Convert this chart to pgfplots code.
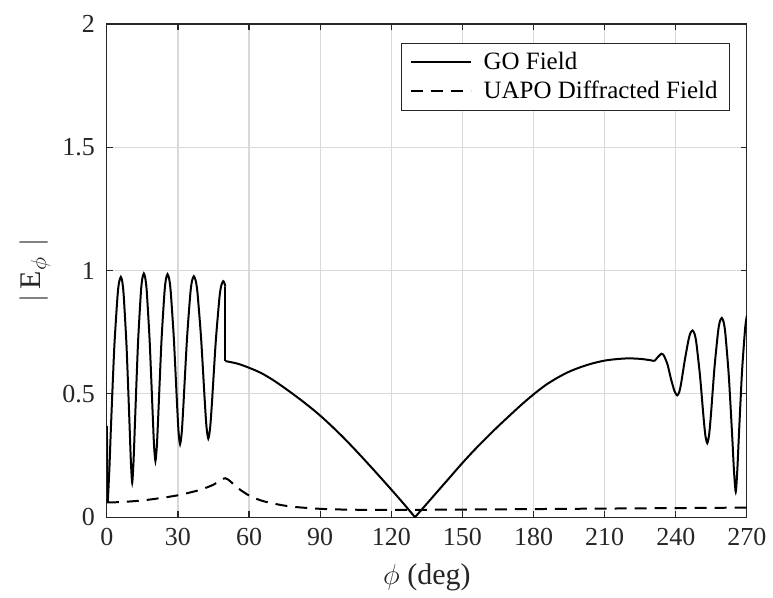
\documentclass[border=0pt]{standalone}
\usepackage{fontspec}
\setmainfont{Liberation Serif}
\usepackage{pgfplots}
\pgfplotsset{compat=1.18}
\definecolor{axgray}{RGB}{38,38,38}

\begin{document}
\begin{tikzpicture}
\begin{axis}[
  scale only axis,
  width=320.5pt,
  height=247pt,
  xmin=0, xmax=270,
  ymin=0, ymax=2,
  xtick={0,30,...,270},
  ytick={0,0.5,1,1.5,2},
  grid=major,
  grid style={black!15, line width=0.6pt},
  axis line style={axgray, line width=0.6pt},
  tick style={axgray, line width=0.6pt},
  major tick length=3pt,
  tick align=inside,
  xtick pos=both, ytick pos=both,
  /pgf/number format/assume math mode=true,
  tick label style={font=\fontsize{13}{15}\selectfont, text=axgray},
  xticklabel style={yshift=-2pt},
  yticklabel style={xshift=-2.5pt},
  every axis x label/.style={at={(axis description cs:0.5,0)}, yshift=-30pt, anchor=center,
    font=\fontsize{15}{17}\selectfont, text=axgray},
  every axis y label/.style={at={(axis description cs:0,0.5)}, xshift=-36pt, rotate=90, anchor=center,
    font=\fontsize{15}{17}\selectfont, text=axgray},
  xlabel={$\phi$ (deg)},
  ylabel={$\bigl|$\,E$_{\phi}$\,\,$\bigr|$},
  legend style={at={(1,1)}, anchor=north east, xshift=-8.5pt, yshift=-9.5pt,
    font=\fontsize{12.5}{14}\selectfont, draw=axgray, line width=0.4pt,
    row sep=0pt, inner xsep=4pt, inner ysep=2.5pt},
  legend cell align=left,
  legend image code/.code={\draw[#1] (0cm,0cm) -- (30pt,0cm); \path (34pt,0cm);},
]
% GO field, oscillating part below 50 deg
\addplot[black, line width=1pt, smooth, tension=0.4] coordinates {
(0.4,0.06) (1.09,0.199) (1.78,0.377) (3.15,0.690) (4.53,0.900) (5.21,0.955) (5.9,0.974)
(6.5,0.956) (7.1,0.901) (8.3,0.696) (9.5,0.395) (10.1,0.235) (10.7,0.14)
(11.31,0.237) (11.93,0.400) (13.15,0.706) (14.38,0.914) (14.99,0.969) (15.6,0.988)
(16.21,0.970) (16.83,0.917) (18.05,0.717) (19.28,0.433) (19.89,0.295) (20.5,0.228)
(21.14,0.295) (21.78,0.432) (23.05,0.715) (24.33,0.914) (24.96,0.967) (25.6,0.985)
(26.26,0.968) (26.93,0.917) (28.25,0.727) (29.58,0.466) (30.24,0.348) (30.9,0.296)
(31.63,0.347) (32.35,0.463) (33.8,0.722) (35.25,0.910) (35.98,0.960) (36.7,0.977)
(37.46,0.960) (38.23,0.911) (39.75,0.727) (41.28,0.476) (42.04,0.366) (42.8,0.319)
(43.59,0.364) (44.38,0.470) (45.95,0.713) (47.53,0.893) (48.31,0.941) (49.1,0.957)
(49.6,0.950) (50,0.935)
};
\addlegendentry{GO Field}
\addplot[black, line width=1pt, forget plot] coordinates {
(0,0.37) (0.4,0.06)
};
\addplot[black, line width=1pt, forget plot] coordinates {
(50,0.935) (50,0.633)
};
\addplot[black, line width=1pt, smooth, tension=0.5, forget plot] coordinates {
(50,0.633) (55,0.623) (60,0.606) (65,0.585) (70,0.557) (75,0.524) (80,0.489) (85,0.452)
(90,0.412) (95,0.368) (100,0.321) (105,0.271) (110,0.219) (115,0.166) (120,0.112)
(125,0.057) (130,0)
};
\addplot[black, line width=1pt, smooth, tension=0.5, forget plot] coordinates {
(130,0) (135,0.055) (140,0.110) (145,0.165) (150,0.220) (155,0.272) (160,0.321) (165,0.368)
(170,0.413) (175,0.457) (180,0.498) (185,0.535) (190,0.565) (195,0.590) (200,0.609)
(205,0.624) (210,0.635) (215,0.641) (220,0.644) (225,0.642) (229,0.637) (231,0.633)
};
\addplot[black, line width=1pt, smooth, tension=0.4, forget plot] coordinates {
(231,0.633) (232.5,0.650) (234,0.663) (235,0.655) (236.5,0.620) (238,0.560) (239.5,0.510) (240.6,0.494)
(241.41,0.506) (242.23,0.541) (243.85,0.639) (245.48,0.724) (246.29,0.749) (247.1,0.757)
(247.88,0.745) (248.65,0.709) (250.2,0.576) (251.75,0.401) (252.52,0.329) (253.3,0.300)
(254.06,0.334) (254.83,0.415) (256.35,0.609) (257.88,0.755) (258.64,0.795) (259.4,0.808)
(260.14,0.793) (260.88,0.748) (262.35,0.576) (263.83,0.324) (264.56,0.187) (265.3,0.103)
(265.96,0.191) (266.63,0.332) (267.95,0.591) (269.28,0.768) (270,0.817)
};
\addplot[black, line width=1pt, smooth, tension=0.5, dash pattern=on 6pt off 4pt] coordinates {
(0,0.060) (5,0.061) (10,0.064) (15,0.068) (20,0.074) (25,0.081) (30,0.089)
(35,0.100) (40,0.113) (45,0.132) (50,0.158) (55,0.120) (60,0.088) (65,0.068)
(70,0.056) (75,0.047) (80,0.041) (90,0.034) (100,0.031) (110,0.030) (130,0.030)
(150,0.031) (180,0.033) (210,0.035) (240,0.037) (270,0.039)
};
\addlegendentry{UAPO Diffracted Field}
\end{axis}
\path ([xshift=-53.5pt,yshift=-40pt]current axis.south west) rectangle ([xshift=12.5pt,yshift=12pt]current axis.north east);
\end{tikzpicture}
\end{document}
